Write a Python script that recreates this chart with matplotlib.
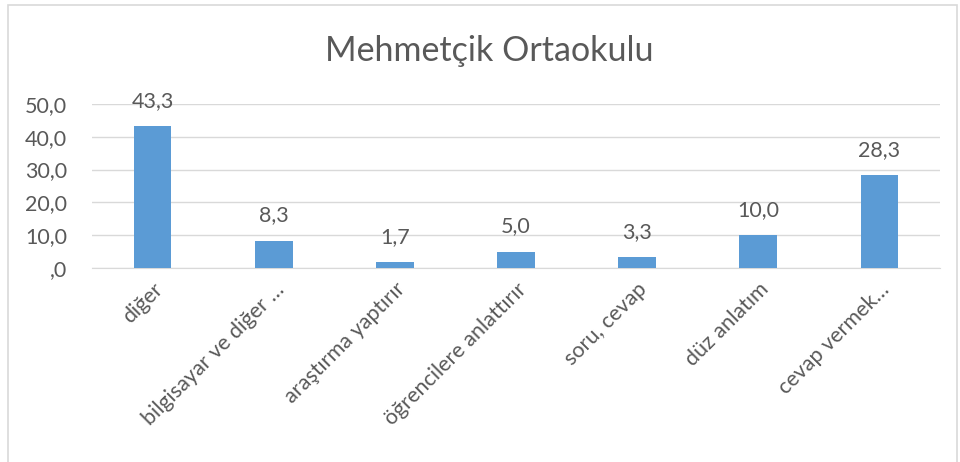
import matplotlib.pyplot as plt
from matplotlib.patches import Rectangle

categories = ['diğer', 'bilgisayar ve diğer …', 'araştırma yaptırır',
              'öğrencilere anlattırır', 'soru, cevap', 'düz anlatım',
              'cevap vermek…']
values = [43.3, 8.3, 1.7, 5.0, 3.3, 10.0, 28.3]
yticks = [0, 10, 20, 30, 40, 50]

plt.rcParams['font.family'] = ['Lato', 'DejaVu Sans']
gray = '#595959'

fig = plt.figure(figsize=(9.6, 4.62), dpi=100)
ax = fig.add_axes([0.096, 0.42, 0.883, 0.355])

x = range(len(categories))
ax.bar(x, values, width=0.31, color='#5B9BD5', zorder=3)
for xi, v in zip(x, values):
    ax.annotate(f'{v:.1f}'.replace('.', ','), (xi, v), xytext=(0, 11),
                textcoords='offset points', ha='center', va='bottom',
                fontsize=15.5, color=gray)

ax.set_xlim(-0.5, len(categories) - 0.5)
ax.set_ylim(0, 50)
ax.set_yticks(yticks)
ax.set_yticklabels([f'{t:.1f}'.replace('.', ',') if t else ',0' for t in yticks])
ax.yaxis.grid(True, color='#D9D9D9', linewidth=1, zorder=0)
ax.set_xticks(list(x))
ax.set_xticklabels(categories, rotation=45, ha='right', rotation_mode='anchor')
ax.tick_params(length=0, labelsize=15.5, colors=gray)
ax.tick_params(axis='y', pad=18)
ax.tick_params(axis='x', pad=8)
for s in ['top', 'right', 'left']:
    ax.spines[s].set_visible(False)
ax.spines['bottom'].set_color('#D9D9D9')

fig.text(0.51, 0.89, 'Mehmetçik Ortaokulu', ha='center', va='center',
         fontsize=24.5, color=gray)

fig.patches.append(Rectangle((8 / 960, -0.1), 949 / 960, 1.09, transform=fig.transFigure,
                             fill=False, edgecolor='#D9D9D9', linewidth=1.2))

fig.savefig('out.png', dpi=100)
